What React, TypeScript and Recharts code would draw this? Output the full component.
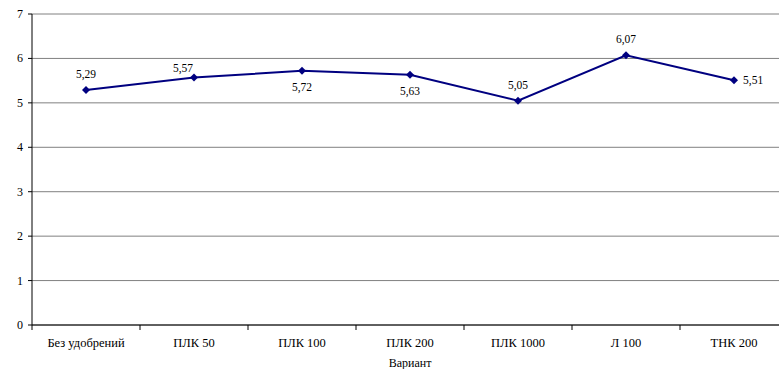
import { LineChart, Line, XAxis, YAxis, CartesianGrid, LabelList } from 'recharts';

const categories = ['Без удобрений', 'ПЛК 50', 'ПЛК 100', 'ПЛК 200', 'ПЛК 1000', 'Л 100', 'ТНК 200'];
const values = [5.29, 5.57, 5.72, 5.63, 5.05, 6.07, 5.51];
const yTicks = [0, 1, 2, 3, 4, 5, 6, 7];
const labelPlacement = ['top', 'topLeft', 'bottom', 'bottom', 'top', 'top', 'right'];

const data = categories.map((name, i) => ({ name, value: values[i] }));

const FONT = 'Liberation Serif';
const BAND = 108;

const Diamond = (props: any) => {
  const { cx, cy } = props;
  if (cx == null || cy == null) return null;
  const r = 4;
  return <path d={`M${cx},${cy - r}L${cx + r},${cy}L${cx},${cy + r}L${cx - r},${cy}Z`} fill='#000080' />;
};

const XTick = (props: any) => {
  const { x, y, payload, index } = props;
  return (
    <g>
      <line x1={x - BAND / 2} y1={y - 8} x2={x - BAND / 2} y2={y - 3} stroke='#000' />
      {index === categories.length - 1 && (
        <line x1={x + BAND / 2} y1={y - 8} x2={x + BAND / 2} y2={y - 3} stroke='#000' />
      )}
      <text x={x} y={y + 14} textAnchor='middle' fontSize={12.5} fontFamily={FONT} fill='#000'>
        {payload.value}
      </text>
    </g>
  );
};

const YTick = (props: any) => {
  const { x, y, payload } = props;
  return (
    <text x={x - 3} y={y + 4} textAnchor='end' fontSize={12} fontFamily={FONT} fill='#000'>
      {payload.value}
    </text>
  );
};

const ValueLabel = (props: any) => {
  const { x, y, value, index } = props;
  const text = String(value.toFixed(2)).replace('.', ',');
  const place = labelPlacement[index];
  let tx = x;
  let ty = y - 12;
  let anchor: 'middle' | 'start' = 'middle';
  if (place === 'bottom') ty = y + 20;
  if (place === 'topLeft') {
    tx = x - 11;
    ty = y - 6;
  }
  if (place === 'right') {
    tx = x + 9;
    ty = y + 4;
    anchor = 'start';
  }
  return (
    <text x={tx} y={ty} textAnchor={anchor} fontSize={11.5} fontFamily={FONT} fill='#000'>
      {text}
    </text>
  );
};

export default function App() {
  return (
    <div style={{ position: 'absolute', left: 0, top: 0, width: 779, height: 369, overflow: 'hidden', background: '#fff' }}>
      <LineChart width={800} height={369} data={data} margin={{ top: 14, right: 12, left: 0, bottom: 0 }}>
        <CartesianGrid vertical={false} stroke='#808080' strokeWidth={1} />
        <XAxis
          dataKey='name'
          axisLine={{ stroke: '#000' }}
          tickLine={false}
          tick={<XTick />}
          interval={0}
          height={44}
          padding={{ left: 54, right: 54 }}
          label={{
            value: 'Вариант',
            position: 'insideBottom',
            offset: 2,
            fontSize: 12,
            fontFamily: FONT,
            fill: '#000'
          }}
        />
        <YAxis
          domain={[0, 7]}
          ticks={yTicks}
          width={32}
          axisLine={{ stroke: '#000' }}
          tickLine={{ stroke: '#000' }}
          tickSize={4}
          tick={<YTick />}
        />
        <Line
          type='linear'
          dataKey='value'
          stroke='#000080'
          strokeWidth={2}
          dot={<Diamond />}
          activeDot={false}
          isAnimationActive={false}>
          <LabelList dataKey='value' content={<ValueLabel />} />
        </Line>
      </LineChart>
    </div>
  );
}
